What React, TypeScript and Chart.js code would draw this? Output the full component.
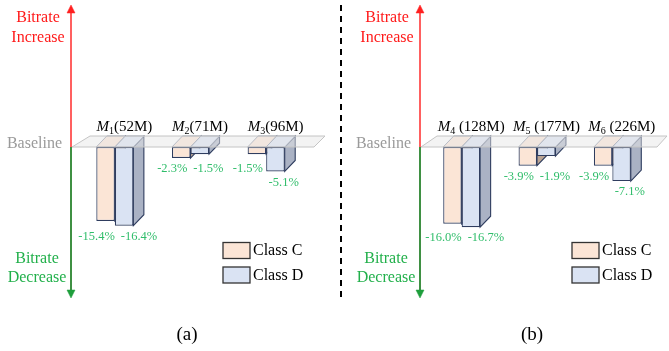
import { useEffect, useRef } from "react";
import { Chart, registerables } from "chart.js";

Chart.register(...registerables);

// Series shared by both panels
const seriesNames = ["Class C", "Class D"];

// Panel (a)
const modelsA = ["1", "2", "3"];
const sizesA = ["(52M)", "(71M)", "(96M)"];
const classCA = [-15.4, -2.3, -1.5];
const classDA = [-16.4, -1.5, -5.1];

// Panel (b)
const modelsB = ["4", "5", "6"];
const sizesB = [" (128M)", " (177M)", " (226M)"];
const classCB = [-16.0, -3.9, -3.9];
const classDB = [-16.7, -1.9, -7.1];

const W = 669;
const H = 351;
const SERIF = '"Liberation Serif", "Times New Roman", serif';

const frontFill = ["#fbe5d6", "#dae3f3"];
const sideFill = ["#bba595", "#aab2c4"];
const edge = "#2f3d5f";
const DX = 10.5;
const DY = 11;

type Panel = {
  models: string[];
  sizes: string[];
  c: number[];
  d: number[];
  left: number;
  right: number;
  axisX: number;
  plane: [number, number, number, number]; // bottom-left, top-left, top-right, bottom-right x
  caption: string;
  captionX: number;
  legendX: number;
  divider: boolean;
};

const panels: Panel[] = [
  {
    models: modelsA, sizes: sizesA, c: classCA, d: classDA,
    left: 77, right: 304, axisX: 71, plane: [72, 90, 325, 314],
    caption: "(a)", captionX: 187, legendX: 223, divider: false,
  },
  {
    models: modelsB, sizes: sizesB, c: classCB, d: classDB,
    left: 424, right: 650, axisX: 420, plane: [421, 437, 667, 657],
    caption: "(b)", captionX: 532, legendX: 572, divider: true,
  },
];

function poly(ctx: CanvasRenderingContext2D, pts: number[][], fill: string, stroke: string, lw = 1) {
  ctx.beginPath();
  ctx.moveTo(pts[0][0], pts[0][1]);
  for (let i = 1; i < pts.length; i++) ctx.lineTo(pts[i][0], pts[i][1]);
  ctx.closePath();
  ctx.fillStyle = fill;
  ctx.fill();
  ctx.strokeStyle = stroke;
  ctx.lineWidth = lw;
  ctx.stroke();
}

function makePlugin(p: Panel) {
  return {
    id: "boxes3d",
    // side and top faces go behind the front faces Chart.js draws
    beforeDatasetsDraw(chart: any) {
      const ctx = chart.ctx as CanvasRenderingContext2D;
      const n = chart.data.labels.length;
      ctx.save();
      for (let i = 0; i < n; i++) {
        chart.data.datasets.forEach((_: any, di: number) => {
          const el = chart.getDatasetMeta(di).data[i];
          const { x, y, base, width } = el.getProps(["x", "y", "base", "width"], true);
          const l = x - width / 2;
          const r = x + width / 2;
          poly(ctx, [[r, base], [r + DX, base - DY], [r + DX, y - DY], [r, y]], sideFill[di], edge, 1.1);
          poly(ctx, [[l, base], [r, base], [r + DX, base - DY], [l + DX, base - DY]], frontFill[di], "#7d879c", 0.9);
        });
      }
      ctx.restore();
    },
    afterDatasetsDraw(chart: any) {
      const ctx = chart.ctx as CanvasRenderingContext2D;
      const yScale = chart.scales.y;
      const zero = yScale.getPixelForValue(0);
      const ax = p.axisX;
      ctx.save();

      // baseline plane
      poly(
        ctx,
        [[p.plane[0], zero], [p.plane[1], zero - DY], [p.plane[2], zero - DY], [p.plane[3], zero]],
        "rgba(232,232,232,0.5)",
        "#c4c4c4",
        1
      );

      // vertical axis: increase (up) and decrease (down)
      ctx.lineWidth = 2;
      ctx.strokeStyle = "#ff6060";
      ctx.beginPath();
      ctx.moveTo(ax, zero);
      ctx.lineTo(ax, 12);
      ctx.stroke();
      poly(ctx, [[ax, 5], [ax - 4, 13], [ax + 4, 13]], "#ff2020", "#ff2020", 0.5);
      ctx.strokeStyle = "#3f9043";
      ctx.lineWidth = 2;
      ctx.beginPath();
      ctx.moveTo(ax, zero);
      ctx.lineTo(ax, 291);
      ctx.stroke();
      poly(ctx, [[ax, 298], [ax - 4, 290], [ax + 4, 290]], "#1f9e3c", "#1f9e3c", 0.5);

      ctx.textAlign = "center";
      ctx.textBaseline = "middle";
      ctx.font = `16px ${SERIF}`;
      ctx.fillStyle = "#ff1a1a";
      ctx.fillText("Bitrate", ax - 33, 18);
      ctx.fillText("Increase", ax - 33, 38);
      ctx.fillStyle = "#22b04b";
      ctx.fillText("Bitrate", ax - 34, 259);
      ctx.fillText("Decrease", ax - 34, 278);
      ctx.fillStyle = "#9a9a9a";
      ctx.textAlign = "right";
      ctx.fillText("Baseline", ax - 9, zero - 3);

      // model names above each group
      ctx.textBaseline = "alphabetic";
      const metaC = chart.getDatasetMeta(0).data;
      const metaD = chart.getDatasetMeta(1).data;
      p.models.forEach((m, i) => {
        const cx = (metaC[i].x + metaD[i].x) / 2 + 9.5;
        const by = zero - 16.5;
        ctx.font = `italic 15px ${SERIF}`;
        const wM = ctx.measureText("M").width;
        ctx.font = `10px ${SERIF}`;
        const wS = ctx.measureText(m).width;
        ctx.font = `15px ${SERIF}`;
        const wT = ctx.measureText(p.sizes[i]).width;
        let x0 = cx - (wM + wS + wT) / 2;
        ctx.textAlign = "left";
        ctx.fillStyle = "#000";
        ctx.font = `italic 15px ${SERIF}`;
        ctx.fillText("M", x0, by);
        x0 += wM;
        ctx.font = `10px ${SERIF}`;
        ctx.fillText(m, x0, by + 3.5);
        x0 += wS;
        ctx.font = `15px ${SERIF}`;
        ctx.fillText(p.sizes[i], x0, by);
      });

      // value labels under the bars; a pair at similar heights shares one row and is spread apart
      ctx.textAlign = "center";
      ctx.textBaseline = "middle";
      ctx.font = `12.5px ${SERIF}`;
      ctx.fillStyle = "#2fbd6a";
      const fmt = (v: number) => `${v.toFixed(1)}%`;
      for (let i = 0; i < p.models.length; i++) {
        const c = metaC[i].getProps(["x", "y", "width"], true);
        const d = metaD[i].getProps(["x", "y", "width"], true);
        const tc = fmt(p.c[i]);
        const td = fmt(p.d[i]);
        let cy = Math.max(c.y + 11, zero + 22);
        let dy = Math.max(d.y + 11, zero + 22);
        const cxl = c.x - 9;
        let dxl = d.x + d.width / 2 - 1;
        if (Math.abs(cy - dy) < 10) {
          const cRight = cxl + ctx.measureText(tc).width / 2;
          dxl = Math.max(dxl, cRight + 6 + ctx.measureText(td).width / 2);
          cy = dy = Math.max(cy, dy);
        }
        ctx.fillText(tc, cxl, cy);
        ctx.fillText(td, dxl, dy);
      }

      // legend
      const lx = p.legendX;
      [242.5, 267].forEach((ty, k) => {
        ctx.fillStyle = frontFill[k];
        ctx.fillRect(lx, ty, 27, 16);
        ctx.strokeStyle = "#333";
        ctx.lineWidth = 1.3;
        ctx.strokeRect(lx, ty, 27, 16);
        ctx.fillStyle = "#000";
        ctx.font = `16px ${SERIF}`;
        ctx.textAlign = "left";
        ctx.fillText(seriesNames[k], lx + 30, ty + 8.5);
      });

      // caption
      ctx.textAlign = "center";
      ctx.font = `19px ${SERIF}`;
      ctx.fillStyle = "#000";
      ctx.fillText(p.caption, p.captionX, 335);

      // dashed separator between the panels
      if (p.divider) {
        ctx.strokeStyle = "#000";
        ctx.lineWidth = 2;
        ctx.setLineDash([6, 5]);
        ctx.beginPath();
        ctx.moveTo(341, 5);
        ctx.lineTo(341, 300);
        ctx.stroke();
        ctx.setLineDash([]);
      }
      ctx.restore();
    },
  };
}

function PanelChart({ p }: { p: Panel }) {
  const ref = useRef<HTMLCanvasElement | null>(null);
  useEffect(() => {
    if (!ref.current) return;
    const chart = new Chart(ref.current, {
      type: "bar",
      data: {
        labels: p.models.map((m) => "M" + m),
        datasets: [
          {
            label: seriesNames[0],
            data: p.c,
            backgroundColor: frontFill[0],
            borderColor: edge,
            borderWidth: 1.2,
            borderSkipped: false,
            categoryPercentage: 0.49,
            barPercentage: 1,
          },
          {
            label: seriesNames[1],
            data: p.d,
            backgroundColor: frontFill[1],
            borderColor: edge,
            borderWidth: 1.2,
            borderSkipped: false,
            categoryPercentage: 0.49,
            barPercentage: 1,
          },
        ],
      },
      options: {
        responsive: false,
        animation: false,
        devicePixelRatio: 1,
        layout: { padding: { left: p.left, right: W - p.right, top: 147, bottom: 60 } },
        plugins: {
          legend: { display: false },
          tooltip: { enabled: false },
          title: { display: false },
        },
        scales: {
          x: { display: false, offset: true },
          y: { display: false, min: -30, max: 0 },
        },
      },
      plugins: [makePlugin(p)],
    } as any);
    return () => chart.destroy();
  }, [p]);
  return (
    <canvas
      ref={ref}
      width={W}
      height={H}
      style={{ position: "absolute", left: 0, top: 0, width: W, height: H }}
    />
  );
}

export default function App() {
  return (
    <div style={{ position: "fixed", left: 0, top: 0, width: W, height: H, background: "#fff" }}>
      {panels.map((p, i) => (
        <PanelChart key={i} p={p} />
      ))}
    </div>
  );
}
